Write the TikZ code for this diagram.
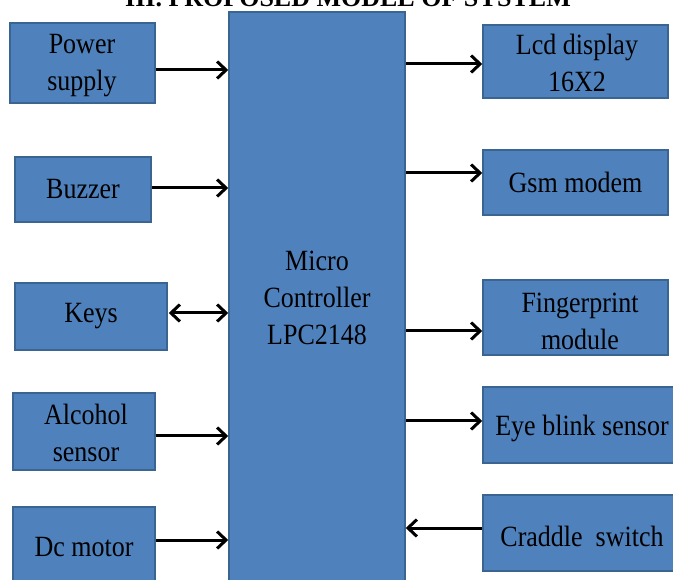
\documentclass[tikz,border=0pt]{standalone}
\usepackage{fontspec}
\usepackage{graphicx}
\setmainfont{Liberation Serif}
\usetikzlibrary{arrows.meta}
\definecolor{boxfill}{HTML}{4F81BD}
\definecolor{boxedge}{HTML}{3A6593}
\newcommand{\tl}[1]{\scalebox{1}[1.13]{#1}}
\tikzset{
  blk/.style={draw=boxedge, line width=1.5pt, fill=boxfill, rectangle, inner sep=0pt,
    align=center, font=\fontsize{26}{38}\selectfont, text=black},
  lbl/.style={align=center, font=\fontsize{26}{37}\selectfont, text=black, inner sep=0pt},
  tip/.style={},
  arr/.style={line width=3pt, -{Straight Barb[length=9pt,width=17pt,line width=3pt]}},
  darr/.style={line width=3pt, {Straight Barb[length=9pt,width=17pt,line width=3pt]}-{Straight Barb[length=9pt,width=17pt,line width=3pt]}}
}
\begin{document}
\begin{tikzpicture}[x=1pt,y=-1pt]
\useasboundingbox (0,0) rectangle (673,580);
\clip (0,0) rectangle (673,580);
\node[font=\bfseries\fontsize{26}{30}\selectfont, anchor=base] (title) at (348,7) {III. PROPOSED MODEL OF SYSTEM};
% central
\node[blk, minimum width=176pt, minimum height=590pt] (mc) at (317,307) {};
\node[lbl] (mctext) at (317,298) {\tl{Micro}\\\tl{Controller}\\\tl{LPC2148}};
% left
\node[blk, minimum width=145pt, minimum height=80pt] (ps) at (82.5,63) {};
\node[lbl] (pstext) at (82,66) {\tl{Power}\\\tl{supply}};
\node[blk, minimum width=136pt, minimum height=65pt] (bz) at (83,189.5) {\tl{Buzzer}};
\node[blk, minimum width=152pt, minimum height=67pt] (ky) at (91,316.5) {\tl{Keys}};
\node[blk, minimum width=142pt, minimum height=77pt] (al) at (84,431.5) {};
\node[lbl] (altext) at (86,433) {\tl{Alcohol}\\\tl{sensor}};
\node[blk, minimum width=142pt, minimum height=80pt] (dc) at (84,547) {\tl{Dc motor}};
% right
\node[blk, minimum width=185pt, minimum height=73pt] (lcd) at (575.5,61.5) {};
\node[lbl] (lcdtext) at (577,63) {\tl{Lcd display}\\\tl{16X2}};
\node[blk, minimum width=185pt, minimum height=65pt] (gsm) at (575.5,182.5) {\tl{Gsm modem}};
\node[blk, minimum width=185pt, minimum height=75pt] (fp) at (575.5,317.5) {};
\node[lbl] (fptext) at (580,321) {\tl{Fingerprint}\\\tl{module}};
\node[blk, minimum width=196pt, minimum height=76pt] (eye) at (581,425) {};
\node[lbl] (eyetext) at (582,428) {\tl{Eye blink sensor}};
\node[blk, minimum width=196pt, minimum height=76pt] (cr) at (581,533) {};
\node[lbl] (crtext) at (582,536) {\tl{Craddle~~switch}};
% connectors
\draw[arr] (ps.east |- 0,70) -- (mc.west |- 0,70);
\draw[arr] (bz.east |- 0,188) -- (mc.west |- 0,188);
\draw[darr] ([xshift=1pt]ky.east |- 0,313) -- (mc.west |- 0,313);
\draw[arr] (al.east |- 0,436) -- (mc.west |- 0,436);
\draw[arr] (dc.east |- 0,540) -- (mc.west |- 0,540);
\draw[arr] (mc.east |- 0,64) -- (lcd.west |- 0,64);
\draw[arr] (mc.east |- 0,173) -- (gsm.west |- 0,173);
\draw[arr] (mc.east |- 0,331) -- (fp.west |- 0,331);
\draw[arr] (mc.east |- 0,421) -- (eye.west |- 0,421);
\draw[arr] (cr.west |- 0,528) -- (mc.east |- 0,528);
\end{tikzpicture}
\end{document}
